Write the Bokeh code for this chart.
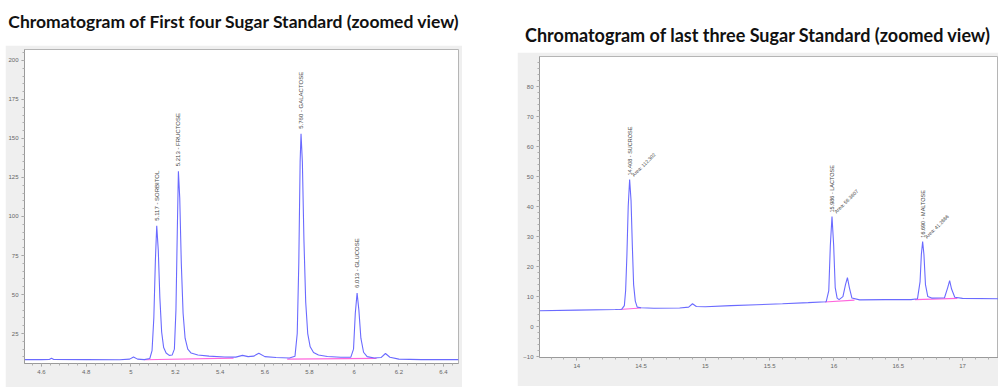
import numpy as np
from bokeh.plotting import figure
from bokeh.models import Range1d, FixedTicker, Div, Spacer
from bokeh.layouts import row, column
from bokeh.core.properties import value
from bokeh.embed import file_html
from bokeh.resources import INLINE

# ---------------- data: left chromatogram (first four sugars) ----------------
left_title = "Chromatogram of First four Sugar Standard (zoomed view)"
left_time = [4.524, 4.60, 4.635, 4.645, 4.655, 4.80, 4.95, 4.995, 5.012, 5.03, 5.06, 5.085,
             5.095, 5.103, 5.110, 5.116, 5.123, 5.130, 5.138, 5.147, 5.158, 5.172, 5.185,
             5.195, 5.202, 5.208, 5.213, 5.219, 5.226, 5.234, 5.243, 5.255, 5.27, 5.30,
             5.35, 5.42, 5.47, 5.50, 5.525, 5.55, 5.573, 5.60, 5.65, 5.71, 5.735, 5.745,
             5.752, 5.758, 5.762, 5.768, 5.775, 5.783, 5.792, 5.803, 5.818, 5.84, 5.88,
             5.94, 5.985, 5.997, 6.005, 6.013, 6.021, 6.03, 6.042, 6.058, 6.09, 6.12,
             6.14, 6.16, 6.20, 6.30, 6.467]
left_signal = [8.3, 8.3, 8.4, 9.2, 8.4, 8.3, 8.2, 8.6, 10.0, 8.6, 8.3, 9.0,
               14, 35, 72, 94, 78, 48, 26, 16, 12.5, 11.0, 11.2,
               15, 40, 90, 129, 112, 70, 38, 22, 15, 12.5, 11.2,
               10.5, 10.0, 9.9, 11.0, 10.2, 10.5, 12.4, 10.2, 9.6, 9.3, 10.5, 25,
               70, 135, 153, 135, 85, 45, 25, 16.5, 12.8, 11.2, 10.3,
               9.8, 9.9, 15, 38, 51, 40, 22, 13, 10.2, 9.3, 9.6,
               12.2, 9.8, 8.6, 8.3, 8.3]
left_peak_time = [5.116, 5.213, 5.762, 6.013]
left_peak_height = [94, 129, 153, 51]
left_peak_labels = ["5.117 - SORBITOL", "5.213 - FRUCTOSE", "5.760 - GALACTOSE", "6.013 - GLUCOSE"]
left_base_t0 = [5.06, 5.70]
left_base_t1 = [5.46, 6.10]
left_base_y0 = [8.2, 8.6]
left_base_y1 = [9.3, 9.1]
left_xticks = [4.6, 4.8, 5.0, 5.2, 5.4, 5.6, 5.8, 6.0, 6.2, 6.4]
left_xtick_labels = ["4.6", "4.8", "5", "5.2", "5.4", "5.6", "5.8", "6", "6.2", "6.4"]
left_yticks = [25, 50, 75, 100, 125, 150, 175, 200]

# ---------------- data: right chromatogram (last three sugars) ----------------
right_title = "Chromatogram of last three Sugar Standard (zoomed view)"
right_time = [13.71, 14.0, 14.3, 14.35, 14.37, 14.38, 14.39, 14.40, 14.411, 14.422, 14.432,
              14.442, 14.455, 14.47, 14.5, 14.6, 14.8, 14.87, 14.9, 14.93, 15.0, 15.2,
              15.4, 15.6, 15.8, 15.94, 15.96, 15.972, 15.985, 15.998, 16.01, 16.025, 16.04,
              16.07, 16.09, 16.105, 16.12, 16.14, 16.2, 16.4, 16.6, 16.65, 16.67, 16.68,
              16.69, 16.70, 16.712, 16.73, 16.76, 16.86, 16.885, 16.9, 16.915, 16.94,
              17.0, 17.28]
right_signal = [5.3, 5.5, 5.7, 5.8, 7.0, 12, 24, 40, 49, 42, 27,
                14, 8.5, 6.5, 6.3, 6.1, 6.2, 6.5, 7.6, 6.7, 6.6, 7.0,
                7.3, 7.6, 8.0, 8.3, 12, 27, 36.7, 27, 13, 9.5, 9.0,
                10, 14, 16.3, 13, 9.5, 8.9, 9.0, 9.0, 9.3, 15, 24,
                28.3, 24, 14, 10, 9.5, 9.6, 13, 15.3, 12.5, 9.8,
                9.4, 9.3]
right_peak_time = [14.411, 15.985, 16.69]
right_peak_height = [49, 36.7, 28.3]
right_peak_labels = ["14.408 - SUCROSE", "15.986 - LACTOSE", "16.690 - MALTOSE"]
right_area_labels = ["Area: 112.302", "Area: 56.3607", "Area: 41.2886"]
right_base_t0 = [14.33, 15.93, 16.63]
right_base_t1 = [14.50, 16.16, 16.96]
right_base_y0 = [5.7, 8.2, 9.0]
right_base_y1 = [6.2, 8.8, 9.4]
right_xticks = [14.0, 14.5, 15.0, 15.5, 16.0, 16.5, 17.0]
right_xtick_labels = ["14", "14.5", "15", "15.5", "16", "16.5", "17"]
right_yticks = [-10, 0, 10, 20, 30, 40, 50, 60, 70, 80]

TRACE = "#6a6aff"
PINK = "#ff66dd"
GRAYFILL = "#efefef"
LABEL_FONT = value("Liberation Sans")


def style_axes(p, xticks, xlabels, yticks, xminor, yminor):
    p.xaxis.ticker = FixedTicker(ticks=xticks, minor_ticks=xminor)
    p.xaxis.major_label_overrides = {t: lab for t, lab in zip(xticks, xlabels)}
    p.yaxis.ticker = FixedTicker(ticks=yticks, minor_ticks=yminor)
    for ax in (p.xaxis[0], p.yaxis[0]):
        ax.axis_line_color = "#9a9a9a"
        ax.major_tick_line_color = "#9a9a9a"
        ax.minor_tick_line_color = "#b0b0b0"
        ax.major_tick_out = 3
        ax.major_tick_in = 0
        ax.minor_tick_out = 2
        ax.minor_tick_in = 0
        ax.major_label_standoff = 3
        ax.major_label_text_font_size = "6px"
        ax.major_label_text_color = "#666666"
        ax.major_label_text_font = "Liberation Sans"
    p.xgrid.grid_line_color = None
    p.ygrid.grid_line_color = None
    p.background_fill_color = "white"
    p.border_fill_color = GRAYFILL
    p.outline_line_color = "#b5b5b5"


# ---------------- left figure ----------------
pl = figure(width=457, height=342, x_range=Range1d(4.524, 6.467), y_range=Range1d(5.8, 207),
            output_backend="svg", toolbar_location=None,
            min_border_left=18, min_border_right=4, min_border_top=4, min_border_bottom=24)
style_axes(pl, left_xticks, left_xtick_labels, left_yticks,
           list(np.round(np.arange(4.52, 6.47, 0.04), 2)), list(range(5, 206, 5)))
pl.segment(x0=left_base_t0, y0=left_base_y0, x1=left_base_t1, y1=left_base_y1,
           line_color=PINK, line_width=1.2)
pl.line(left_time, left_signal, line_color=TRACE, line_width=1.1)
pl.text(x=left_peak_time, y=left_peak_height, text=left_peak_labels, angle=np.pi / 2,
        text_font=LABEL_FONT, text_font_size="6px", text_color="#444444",
        text_align="left", text_baseline="middle", y_offset=-5)

# ---------------- right figure ----------------
pr = figure(width=481, height=334, x_range=Range1d(13.71, 17.28), y_range=Range1d(-10.3, 90),
            output_backend="svg", toolbar_location=None,
            min_border_left=22, min_border_right=0, min_border_top=4, min_border_bottom=29)
style_axes(pr, right_xticks, right_xtick_labels, right_yticks,
           list(np.round(np.arange(13.8, 17.25, 0.1), 2)), list(range(-10, 90, 2)))
pr.segment(x0=right_base_t0, y0=right_base_y0, x1=right_base_t1, y1=right_base_y1,
           line_color=PINK, line_width=1.2)
pr.line(right_time, right_signal, line_color=TRACE, line_width=1.1)
pr.text(x=right_peak_time, y=right_peak_height, text=right_peak_labels, angle=np.pi / 2,
        text_font=LABEL_FONT, text_font_size="5.5px", text_color="#444444",
        text_align="left", text_baseline="middle", y_offset=-4)
pr.text(x=right_peak_time, y=right_peak_height, text=right_area_labels, angle=np.pi / 4,
        text_font=LABEL_FONT, text_font_size="5px", text_color="#444444",
        text_align="left", text_baseline="middle", x_offset=3, y_offset=-4)


def title_div(text, w, h, pad, size):
    html = ('<div style="width:%dpx; text-align:center; font-family:Lato; font-weight:bold; '
            'font-size:%spx; line-height:20px; color:#111; padding-top:%dpx; '
            'white-space:nowrap;">%s</div>' % (w, size, pad, text))
    return Div(text=html, width=w, height=h, margin=0)


left_col = column(title_div(left_title, 457, 45, 12, 17.5), pl, spacing=0)
right_col = column(title_div(right_title, 481, 52, 25, 18), pr, spacing=0)
layout = row(Spacer(width=5, height=10), left_col, Spacer(width=55, height=10), right_col,
             spacing=0)

open("out.html", "w").write(file_html(layout, INLINE))
